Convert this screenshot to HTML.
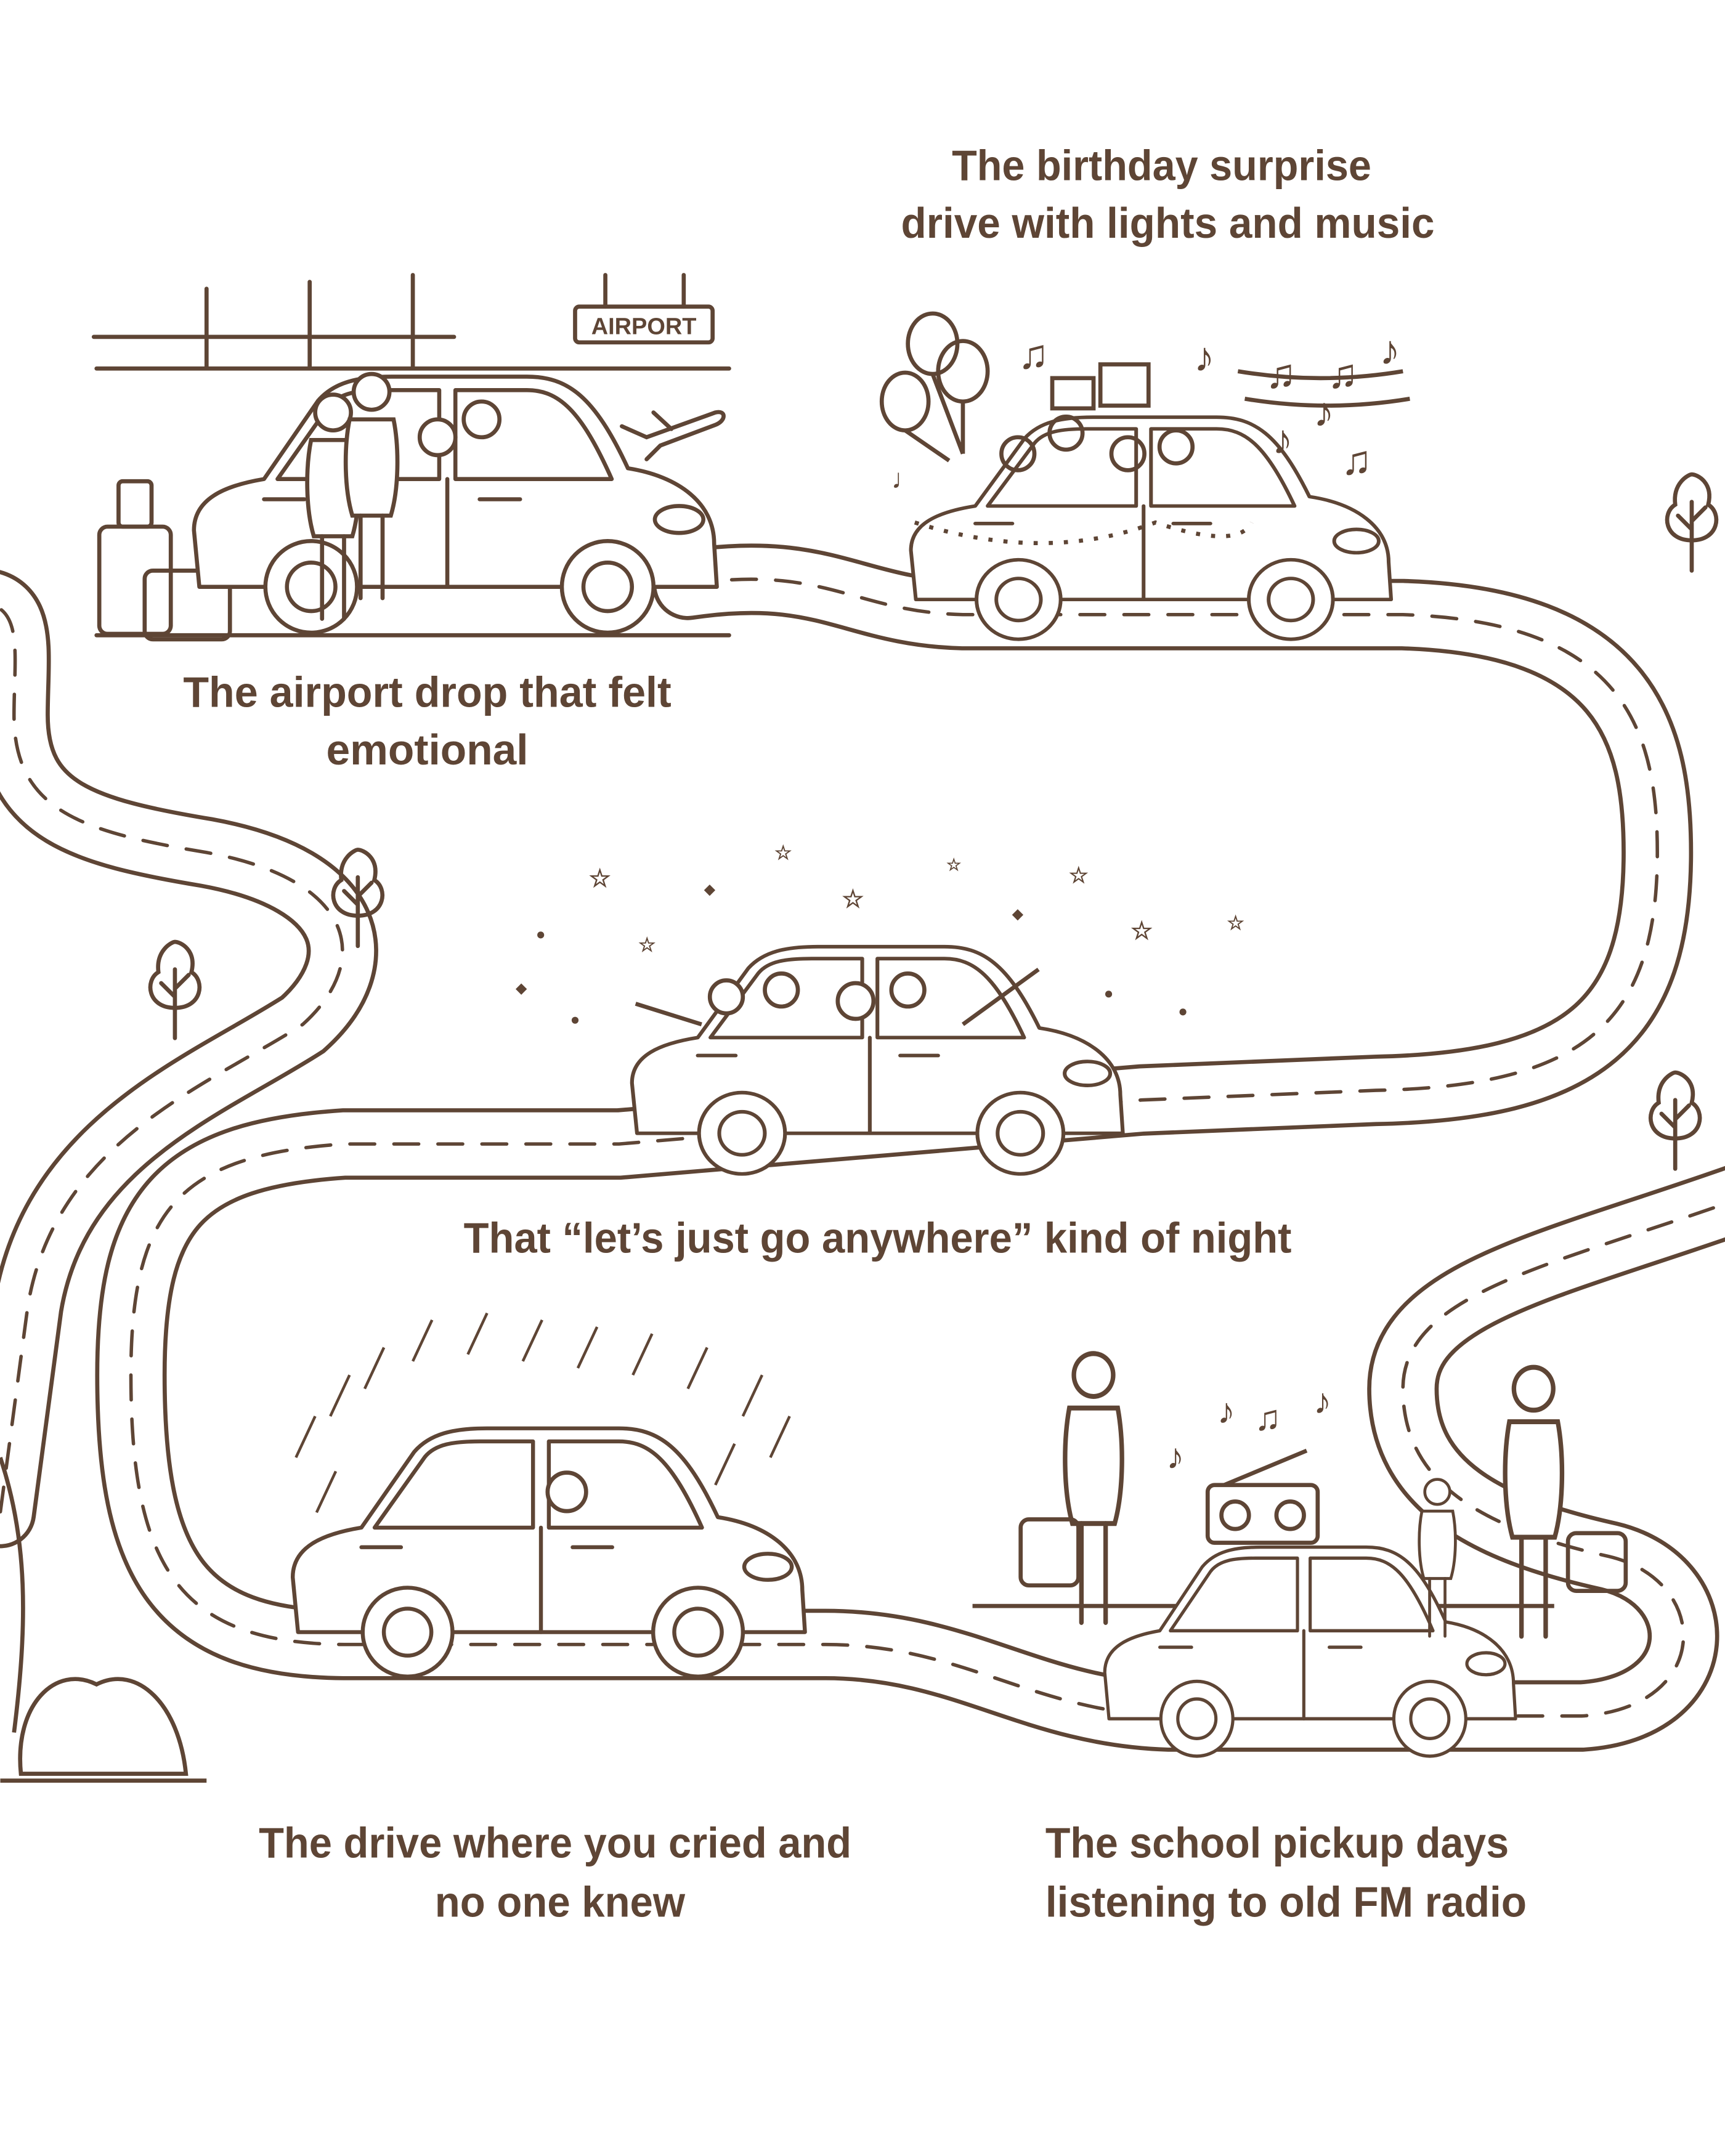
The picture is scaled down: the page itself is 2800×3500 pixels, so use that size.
<!DOCTYPE html>
<html><head><meta charset="utf-8"><style>
html,body{margin:0;padding:0;background:#fff}
svg{display:block}
text{font-family:"Liberation Sans",sans-serif;font-weight:bold;fill:#5e4535}
</style></head><body>
<svg width="2800" height="3500" viewBox="0 0 1254 1568" xmlns="http://www.w3.org/2000/svg">
<defs>
<g id="car" fill="#fff" stroke="#5e4535" stroke-width="3" stroke-linejoin="round" stroke-linecap="round">
<path d="M12,160 L8,118 C8,95 30,85 60,80 L100,22 C112,8 130,4 155,4 L255,4 C285,4 305,18 330,72 C368,78 394,98 394,128 L396,160 Z"/>
<path d="M70,80 L108,26 C116,16 130,14 150,14 L190,14 L190,80 Z"/>
<path d="M202,14 L255,14 C278,14 295,28 318,80 L202,80 Z"/>
<path d="M196,80 L196,160 M60,95 L90,95 M220,95 L250,95"/>
<ellipse cx="368" cy="110" rx="18" ry="10"/>
<circle cx="95" cy="160" r="34"/><circle cx="95" cy="160" r="18"/>
<circle cx="315" cy="160" r="34"/><circle cx="315" cy="160" r="18"/>
</g>
<g id="tree" fill="none" stroke="#5e4535" stroke-width="3" stroke-linecap="round">
<path d="M20,48 C0,48 -2,28 8,22 C6,6 18,0 20,0 C24,0 36,6 32,22 C42,28 40,48 20,48 Z"/>
<path d="M20,70 L20,20 M20,40 L10,30 M20,34 L30,24"/>
</g>
<g id="person" fill="#fff" stroke="#5e4535" stroke-width="3" stroke-linecap="round">
<circle cx="0" cy="0" r="13"/>
<path d="M-16,20 C-20,40 -20,70 -14,90 L14,90 C20,70 20,40 16,20 Z"/>
<path d="M-8,90 L-8,150 M8,90 L8,150"/>
</g>
</defs>

<!-- roads -->
<g fill="none" stroke-linecap="round">
<g stroke="#5e4535" stroke-width="52">
<path id="r1" d="M-30,440 C20,430 10,470 10,520 C10,590 60,605 150,620 C260,640 270,700 220,745 C150,790 40,830 20,950 L0,1100"/>
<path id="r2" d="M500,425 C600,410 620,445 700,447 L1020,447 C1180,452 1205,530 1205,620 C1205,745 1150,790 1000,793 L830,800 L450,832 L250,832 C130,840 95,880 95,1000 C95,1140 130,1195 250,1196 L600,1196 C700,1196 750,1245 850,1248 L1150,1248 C1245,1242 1245,1150 1170,1132 C1080,1112 1020,1080 1020,1010 C1020,940 1130,920 1270,870"/>
</g>
<g stroke="#fff" stroke-width="46">
<use href="#r1"/><use href="#r2"/>
</g>
<g stroke="#5e4535" stroke-width="2.5" stroke-dasharray="18 14">
<use href="#r1"/><use href="#r2"/>
</g>
</g>

<!-- airport scene -->
<g fill="none" stroke="#5e4535" stroke-width="3" stroke-linecap="round">
<path d="M68,245 L330,245 M70,268 L370,268 M150,210 L150,268 M225,205 L225,268 M300,200 L300,268 M340,268 L530,268"/>
<path d="M70,462 L530,462"/>
<rect x="418" y="223" width="100" height="26" rx="3"/>
<path d="M440,200 L440,223 M497,200 L497,223"/>
<path d="M452,310 L470,318 L520,300 C528,298 528,306 520,309 L480,324 L470,334 M488,312 L475,300"/>
<rect x="72" y="383" width="52" height="78" rx="6"/><rect x="86" y="350" width="24" height="33" rx="3"/>
<rect x="105" y="415" width="62" height="50" rx="6"/>
</g>
<text x="468" y="243" font-size="17" text-anchor="middle" font-weight="normal">AIRPORT</text>
<use href="#car" transform="translate(133,270) scale(0.98,0.98)"/>
<use href="#person" transform="translate(242,300)"/>
<use href="#person" transform="translate(270,285)"/>
<g fill="#fff" stroke="#5e4535" stroke-width="3"><circle cx="318" cy="318" r="13"/><circle cx="350" cy="305" r="13"/></g>

<!-- birthday scene -->
<use href="#car" transform="translate(655,300) scale(0.9,0.85)"/>
<g fill="none" stroke="#5e4535" stroke-width="3">
<ellipse cx="678" cy="250" rx="18" ry="22"/><ellipse cx="700" cy="270" rx="18" ry="22"/><ellipse cx="658" cy="292" rx="17" ry="21"/>
<path d="M678,272 L700,330 M700,292 L700,330 M658,313 L690,335"/>
<rect x="765" y="275" width="30" height="22"/><rect x="800" y="265" width="35" height="30"/>
<path d="M665,380 Q760,410 840,380 Q900,400 910,380" stroke-dasharray="3 8"/>
<path d="M900,270 Q960,280 1020,270 M905,290 Q965,300 1025,290"/>
<circle cx="740" cy="330" r="12"/><circle cx="775" cy="315" r="12"/><circle cx="820" cy="330" r="12"/><circle cx="855" cy="325" r="12"/>
</g>
<g font-size="30" font-weight="normal">
<text x="740" y="268">♫</text><text x="868" y="270">♪</text><text x="920" y="282">♫</text><text x="965" y="282">♫</text><text x="1003" y="265">♪</text><text x="925" y="330">♪</text><text x="955" y="310">♪</text><text x="975" y="345">♫</text><text x="648" y="355" font-size="20">♩</text>
</g>

<!-- night scene -->
<use href="#car" transform="translate(452,685) scale(0.92,0.87)"/>
<g fill="#fff" stroke="#5e4535" stroke-width="3">
<circle cx="528" cy="725" r="12"/><circle cx="568" cy="720" r="12"/><circle cx="622" cy="728" r="13"/><circle cx="660" cy="720" r="12"/>
<path d="M700,745 L755,705" fill="none"/><path d="M510,745 L462,730" fill="none"/>
</g>
<g font-size="18" font-weight="normal">
<text x="428" y="645">☆</text><text x="563" y="625" font-size="14">☆</text><text x="612" y="660">☆</text><text x="688" y="633" font-size="12">☆</text><text x="777" y="642" font-size="16">☆</text><text x="822" y="683">☆</text><text x="892" y="676" font-size="14">☆</text><text x="464" y="692" font-size="14">☆</text>
<text x="512" y="650" font-size="10">◆</text><text x="736" y="668" font-size="10">◆</text><text x="375" y="722" font-size="10">◆</text>
</g>
<g fill="#5e4535"><circle cx="393" cy="680" r="2.5"/><circle cx="418" cy="742" r="2.5"/><circle cx="806" cy="723" r="2.5"/><circle cx="860" cy="736" r="2.5"/></g>

<!-- cry scene -->
<g stroke="#5e4535" stroke-width="2" fill="none">
<path d="M215,1060 l14,-30 M240,1030 l14,-30 M265,1010 l14,-30 M300,990 l14,-30 M340,985 l14,-30 M380,990 l14,-30 M420,995 l14,-30 M460,1000 l14,-30 M500,1010 l14,-30 M540,1030 l14,-30 M560,1060 l14,-30 M230,1100 l14,-30 M520,1080 l14,-30"/>
</g>
<use href="#car" transform="translate(205,1035) scale(0.96,0.95)"/>
<circle cx="412" cy="1085" r="14" fill="#fff" stroke="#5e4535" stroke-width="3"/>

<!-- school scene -->
<g fill="none" stroke="#5e4535" stroke-width="3"><path d="M707,1168 L1130,1168"/><rect x="878" y="1080" width="80" height="42" rx="5"/><circle cx="898" cy="1102" r="10"/><circle cx="938" cy="1102" r="10"/><path d="M890,1080 L950,1055"/></g>
<use href="#car" transform="translate(797,1122) scale(0.77,0.8)"/>
<use href="#person" transform="translate(795,1000) scale(1.1,1.2)"/>
<use href="#person" transform="translate(1115,1010) scale(1.1,1.2)"/>
<use href="#person" transform="translate(1045,1085) scale(0.7,0.7)"/>
<g fill="none" stroke="#5e4535" stroke-width="3"><rect x="742" y="1105" width="42" height="48" rx="6"/><rect x="1140" y="1115" width="42" height="42" rx="6"/></g>
<g font-size="26" font-weight="normal"><text x="848" y="1068">♪</text><text x="885" y="1035">♪</text><text x="912" y="1040">♫</text><text x="955" y="1028">♪</text></g>

<!-- left trees / bush -->
<use href="#tree" transform="translate(240,618)"/>
<use href="#tree" transform="translate(107,685)"/>
<use href="#tree" transform="translate(1210,345)"/>
<use href="#tree" transform="translate(1198,780)"/>
<g fill="none" stroke="#5e4535" stroke-width="3">
<path d="M0,1060 C20,1120 20,1180 10,1260"/>
<path d="M15,1290 C10,1240 40,1210 70,1225 C100,1210 130,1240 135,1290 Z"/>
<path d="M0,1295 L150,1295"/>
</g>

<!-- labels -->
<text x="692" y="131" font-size="31" textLength="305" lengthAdjust="spacingAndGlyphs">The birthday surprise</text>
<text x="655" y="173" font-size="31" textLength="388" lengthAdjust="spacingAndGlyphs">drive with lights and music</text>
<text x="133" y="514" font-size="31" textLength="355" lengthAdjust="spacingAndGlyphs">The airport drop that felt</text>
<text x="237" y="556" font-size="31" textLength="147" lengthAdjust="spacingAndGlyphs">emotional</text>
<text x="337" y="911" font-size="31" textLength="602" lengthAdjust="spacingAndGlyphs">That “let’s just go anywhere” kind of night</text>
<text x="188" y="1351" font-size="31" textLength="431" lengthAdjust="spacingAndGlyphs">The drive where you cried and</text>
<text x="316" y="1394" font-size="31" textLength="182" lengthAdjust="spacingAndGlyphs">no one knew</text>
<text x="760" y="1351" font-size="31" textLength="337" lengthAdjust="spacingAndGlyphs">The school pickup days</text>
<text x="760" y="1394" font-size="31" textLength="350" lengthAdjust="spacingAndGlyphs">listening to old FM radio</text>
</svg>
</body></html>
